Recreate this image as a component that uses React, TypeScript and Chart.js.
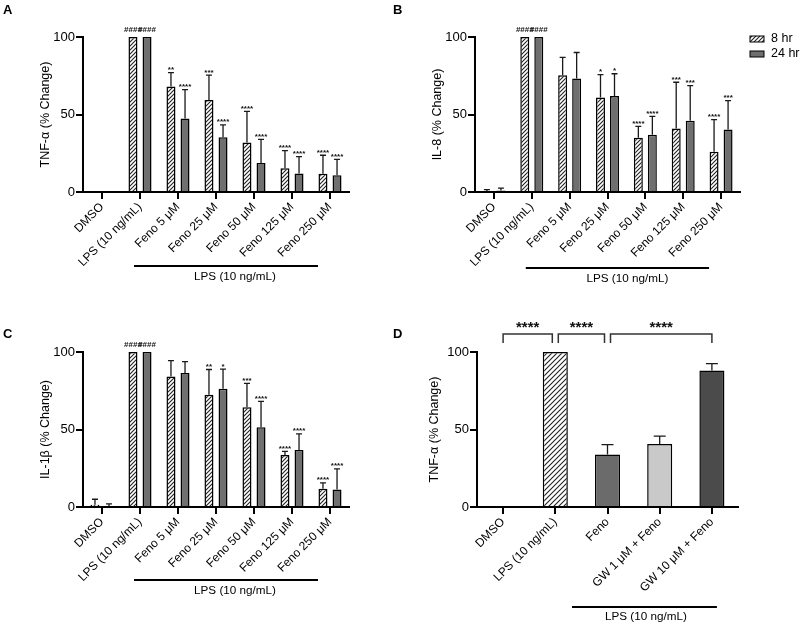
import React, { useEffect, useRef } from 'react';
import { Chart, registerables } from 'chart.js';

Chart.register(...registerables);

const FONT = "'Liberation Sans', Arial, Helvetica, sans-serif";

// ---------- data ----------
const doseLabels = ['DMSO', 'LPS (10 ng/mL)', 'Feno 5 μM', 'Feno 25 μM', 'Feno 50 μM', 'Feno 125 μM', 'Feno 250 μM'];
const seriesNames = ['8 hr', '24 hr'];
const groupLabel = 'LPS (10 ng/mL)';

const tnf8 = [0.5, 100, 68, 59.4, 32, 15.3, 11.8];
const tnf8Sd = [0, 0, 9, 16, 20, 11.4, 11.9];
const tnf8Sig = ['', '####', '**', '***', '****', '****', '****'];
const tnf24 = [0.5, 100, 47.5, 35.3, 18.7, 12, 10.8];
const tnf24Sd = [0, 0, 18.5, 8, 15.3, 10.8, 10.2];
const tnf24Sig = ['', '####', '****', '****', '****', '****', '****'];

const il8_8 = [0.5, 100, 75.3, 60.9, 35, 41, 26];
const il8_8Sd = [1, 0, 11.6, 14.8, 7.4, 29.8, 20.7];
const il8_8Sig = ['', '####', '', '*', '****', '***', '****'];
const il8_24 = [1, 100, 73.3, 62, 37, 46, 40.4];
const il8_24Sd = [1.5, 0, 16.7, 14.3, 11.8, 22.6, 18.6];
const il8_24Sig = ['', '####', '', '*', '****', '***', '***'];

const il1b8 = [1.5, 100, 84.2, 72.4, 64.3, 33.5, 11.8];
const il1b8Sd = [3.5, 0, 10.2, 16.3, 15.4, 2.4, 3.8];
const il1b8Sig = ['', '####', '', '**', '***', '****', '****'];
const il1b24 = [0.5, 100, 86.5, 76.3, 51.5, 36.8, 11.3];
const il1b24Sd = [1.5, 0, 7.3, 12.6, 16.7, 10.4, 13.3];
const il1b24Sig = ['', '####', '', '*', '****', '****', '****'];

const gwLabels = ['DMSO', 'LPS (10 ng/mL)', 'Feno', 'GW 1 μM + Feno', 'GW 10 μM + Feno'];
const gwTnf = [0, 100, 33.9, 40.6, 88];
const gwSd = [0, 0, 6.4, 5.1, 4.5];
const gwPairs = [[0, 1], [1, 2], [2, 4]];
const gwPairSig = ['****', '****', '****'];

// ---------- helpers ----------
const W = 804, H = 624, XH = 112;

function hatch(size: number) {
  const c = document.createElement('canvas');
  c.width = size; c.height = size;
  const g = c.getContext('2d')!;
  g.fillStyle = '#fff'; g.fillRect(0, 0, size, size);
  g.strokeStyle = '#222'; g.lineWidth = 1.1;
  g.beginPath();
  g.moveTo(-1, size + 1); g.lineTo(size + 1, -1);
  g.moveTo(-1, 1); g.lineTo(1, -1);
  g.moveTo(size - 1, size + 1); g.lineTo(size + 1, size - 1);
  g.stroke();
  return g.createPattern(c, 'repeat');
}

function annot(p: any) {
  return {
    id: 'annot',
    afterDatasetsDraw(chart: any) {
      const ctx = chart.ctx; const ys = chart.scales.y;
      ctx.save();
      chart.data.datasets.forEach((ds: any, di: number) => {
        const meta = chart.getDatasetMeta(di);
        meta.data.forEach((bar: any, i: number) => {
          const v = ds.data[i]; const sd = (ds.sd && ds.sd[i]) || 0;
          const top = ys.getPixelForValue(v + sd);
          if (sd > 0) {
            ctx.strokeStyle = '#1a1a1a'; ctx.lineWidth = 1.3;
            ctx.beginPath();
            ctx.moveTo(bar.x, bar.y); ctx.lineTo(bar.x, top);
            ctx.moveTo(bar.x - p.cap, top); ctx.lineTo(bar.x + p.cap, top);
            ctx.stroke();
          }
          const s = ds.sig && ds.sig[i];
          if (s) {
            ctx.font = `bold 8px ${FONT}`;
            ctx.fillStyle = '#111'; ctx.textAlign = 'center'; ctx.textBaseline = 'alphabetic';
            const m = ctx.measureText(s);
            const gap = s[0] === '#' ? 5 : 2.5;
            ctx.fillText(s, bar.x, top - gap - m.actualBoundingBoxDescent);
          }
        });
      });
      ctx.restore();
    },
    afterDraw(chart: any) {
      const ctx = chart.ctx; const xs = chart.scales.x;
      ctx.save();
      // panel letter
      ctx.font = `bold 13px ${FONT}`; ctx.fillStyle = '#000';
      ctx.textAlign = 'left'; ctx.textBaseline = 'alphabetic';
      ctx.fillText(p.letter, p.letterX, p.letterY);
      // group line
      const g = p.group;
      const x0 = xs.getPixelForValue(g.from) + g.dx0;
      const x1 = xs.getPixelForValue(g.to) + g.dx1;
      ctx.strokeStyle = '#000'; ctx.lineWidth = 2;
      ctx.beginPath(); ctx.moveTo(x0, g.y); ctx.lineTo(x1, g.y); ctx.stroke();
      ctx.font = `11.7px ${FONT}`; ctx.textAlign = 'center'; ctx.textBaseline = 'middle';
      ctx.fillText(groupLabel, (x0 + x1) / 2 + g.textDx, g.textY);
      // legend
      if (p.legend) {
        const L = p.legend;
        chart.data.datasets.forEach((ds: any, i: number) => {
          const by = L.y + i * L.step;
          ctx.fillStyle = ds.backgroundColor; ctx.fillRect(L.x, by - 3, 14, 6);
          ctx.strokeStyle = '#000'; ctx.lineWidth = 1; ctx.strokeRect(L.x, by - 3, 14, 6);
          ctx.fillStyle = '#000'; ctx.font = `12.5px ${FONT}`; ctx.textAlign = 'left'; ctx.textBaseline = 'middle';
          ctx.fillText(ds.label, L.x + 21, by);
        });
      }
      // brackets
      if (p.brackets) {
        const B = p.brackets;
        const ends: number[] = [];
        B.pairs.forEach((pr: number[]) => ends.push(pr[0], pr[1]));
        const shared = (v: number) => ends.filter((e) => e === v).length > 1;
        B.pairs.forEach((pr: number[], k: number) => {
          const a = xs.getPixelForValue(pr[0]) + (shared(pr[0]) ? 3 : 0);
          const b = xs.getPixelForValue(pr[1]) - (shared(pr[1]) ? 3 : 0);
          ctx.strokeStyle = '#333'; ctx.lineWidth = 1.5;
          ctx.beginPath();
          ctx.moveTo(a, B.y + B.drop); ctx.lineTo(a, B.y); ctx.lineTo(b, B.y); ctx.lineTo(b, B.y + B.drop);
          ctx.stroke();
          ctx.font = `bold 15px ${FONT}`; ctx.fillStyle = '#111'; ctx.textAlign = 'center'; ctx.textBaseline = 'alphabetic';
          const m = ctx.measureText(B.sig[k]);
          ctx.fillText(B.sig[k], (a + b) / 2, B.y - 6 - m.actualBoundingBoxDescent);
        });
      }
      ctx.restore();
    },
  };
}

function buildConfig(p: any) {
  const axisGrid = { display: true, drawOnChartArea: false, drawTicks: true, tickLength: 7, color: '#000', lineWidth: 2, offset: false };
  const YW = p.yw;
  return {
    type: 'bar',
    data: { labels: p.labels, datasets: p.datasets },
    options: {
      responsive: false,
      animation: false,
      layout: { padding: { left: p.area.left - YW, right: W - p.area.right, top: p.area.top, bottom: Math.max(0, H - p.area.bottom - XH) } },
      plugins: { legend: { display: false }, tooltip: { enabled: false } },
      scales: {
        x: {
          afterFit: (s: any) => { s.height = XH; },
          grid: axisGrid,
          border: { display: true, color: '#000', width: 2 },
          ticks: { color: '#000', font: { family: FONT, size: 12 }, minRotation: 45, maxRotation: 45, autoSkip: false, padding: 1 },
        },
        y: {
          min: 0, max: 100,
          afterFit: (s: any) => { s.width = YW; },
          grid: axisGrid,
          border: { display: true, color: '#000', width: 2 },
          ticks: { stepSize: 50, color: '#000', font: { family: FONT, size: 13 }, padding: 1 },
          title: { display: true, text: p.yTitle, color: '#000', font: { family: FONT, size: 12.5 }, padding: { top: 4, bottom: 0 } },
        },
      },
    },
    plugins: [annot(p)],
  };
}

function pairDatasets(v8: number[], sd8: number[], s8: string[], v24: number[], sd24: number[], s24: string[]) {
  const common = { borderColor: '#000', borderWidth: 1.5, categoryPercentage: 0.74, barPercentage: 0.64 };
  return [
    { ...common, label: seriesNames[0], data: v8, sd: sd8, sig: s8, backgroundColor: hatch(4) },
    { ...common, label: seriesNames[1], data: v24, sd: sd24, sig: s24, backgroundColor: '#6f6f6f' },
  ];
}

const specs: Record<string, () => any> = {
  A: () => ({
    letter: 'A', letterX: 3, letterY: 14, cap: 3, yw: 48.5,
    area: { left: 83, right: 349, top: 37, bottom: 192 },
    labels: doseLabels, yTitle: 'TNF-α (% Change)',
    datasets: pairDatasets(tnf8, tnf8Sd, tnf8Sig, tnf24, tnf24Sd, tnf24Sig),
    group: { from: 1, to: 6, dx0: -6, dx1: -12, y: 266, textY: 277, textDx: 9 },
  }),
  B: () => ({
    letter: 'B', letterX: 393, letterY: 14, cap: 3, yw: 49,
    area: { left: 475, right: 740, top: 37, bottom: 192 },
    labels: doseLabels, yTitle: 'IL-8 (% Change)',
    datasets: pairDatasets(il8_8, il8_8Sd, il8_8Sig, il8_24, il8_24Sd, il8_24Sig),
    group: { from: 1, to: 6, dx0: -6, dx1: -12, y: 268, textY: 279, textDx: 10 },
    legend: { x: 750, y: 39, step: 15 },
  }),
  C: () => ({
    letter: 'C', letterX: 3, letterY: 338, cap: 3, yw: 48.5,
    area: { left: 83, right: 349, top: 352, bottom: 507 },
    labels: doseLabels, yTitle: 'IL-1β (% Change)',
    datasets: pairDatasets(il1b8, il1b8Sd, il1b8Sig, il1b24, il1b24Sd, il1b24Sig),
    group: { from: 1, to: 6, dx0: -6, dx1: -12, y: 580, textY: 591, textDx: 9 },
  }),
  D: () => ({
    letter: 'D', letterX: 393, letterY: 338, cap: 6, yw: 53.5,
    area: { left: 477, right: 738, top: 352, bottom: 507 },
    labels: gwLabels, yTitle: 'TNF-α (% Change)',
    datasets: [{
      label: 'TNF-α', data: gwTnf, sd: gwSd,
      backgroundColor: [hatch(5), hatch(5), '#6b6b6b', '#c9c9c9', '#4b4b4b'],
      borderColor: '#000', borderWidth: 1.5, categoryPercentage: 1, barPercentage: 0.48,
    }],
    group: { from: 2, to: 4, dx0: -35.5, dx1: 5, y: 607, textY: 617, textDx: 1.5 },
    brackets: { pairs: gwPairs, sig: gwPairSig, y: 334, drop: 9 },
  }),
};

function Panel({ id }: { id: string }) {
  const ref = useRef<HTMLCanvasElement>(null);
  useEffect(() => {
    const chart = new Chart(ref.current as HTMLCanvasElement, buildConfig(specs[id]()) as any);
    return () => chart.destroy();
  }, [id]);
  return <canvas ref={ref} width={W} height={H} style={{ position: 'absolute', left: 0, top: 0 }} />;
}

export default function App() {
  return (
    <div style={{ position: 'absolute', left: 0, top: 0, width: W, height: H, background: '#fff' }}>
      <Panel id="A" />
      <Panel id="B" />
      <Panel id="C" />
      <Panel id="D" />
    </div>
  );
}
